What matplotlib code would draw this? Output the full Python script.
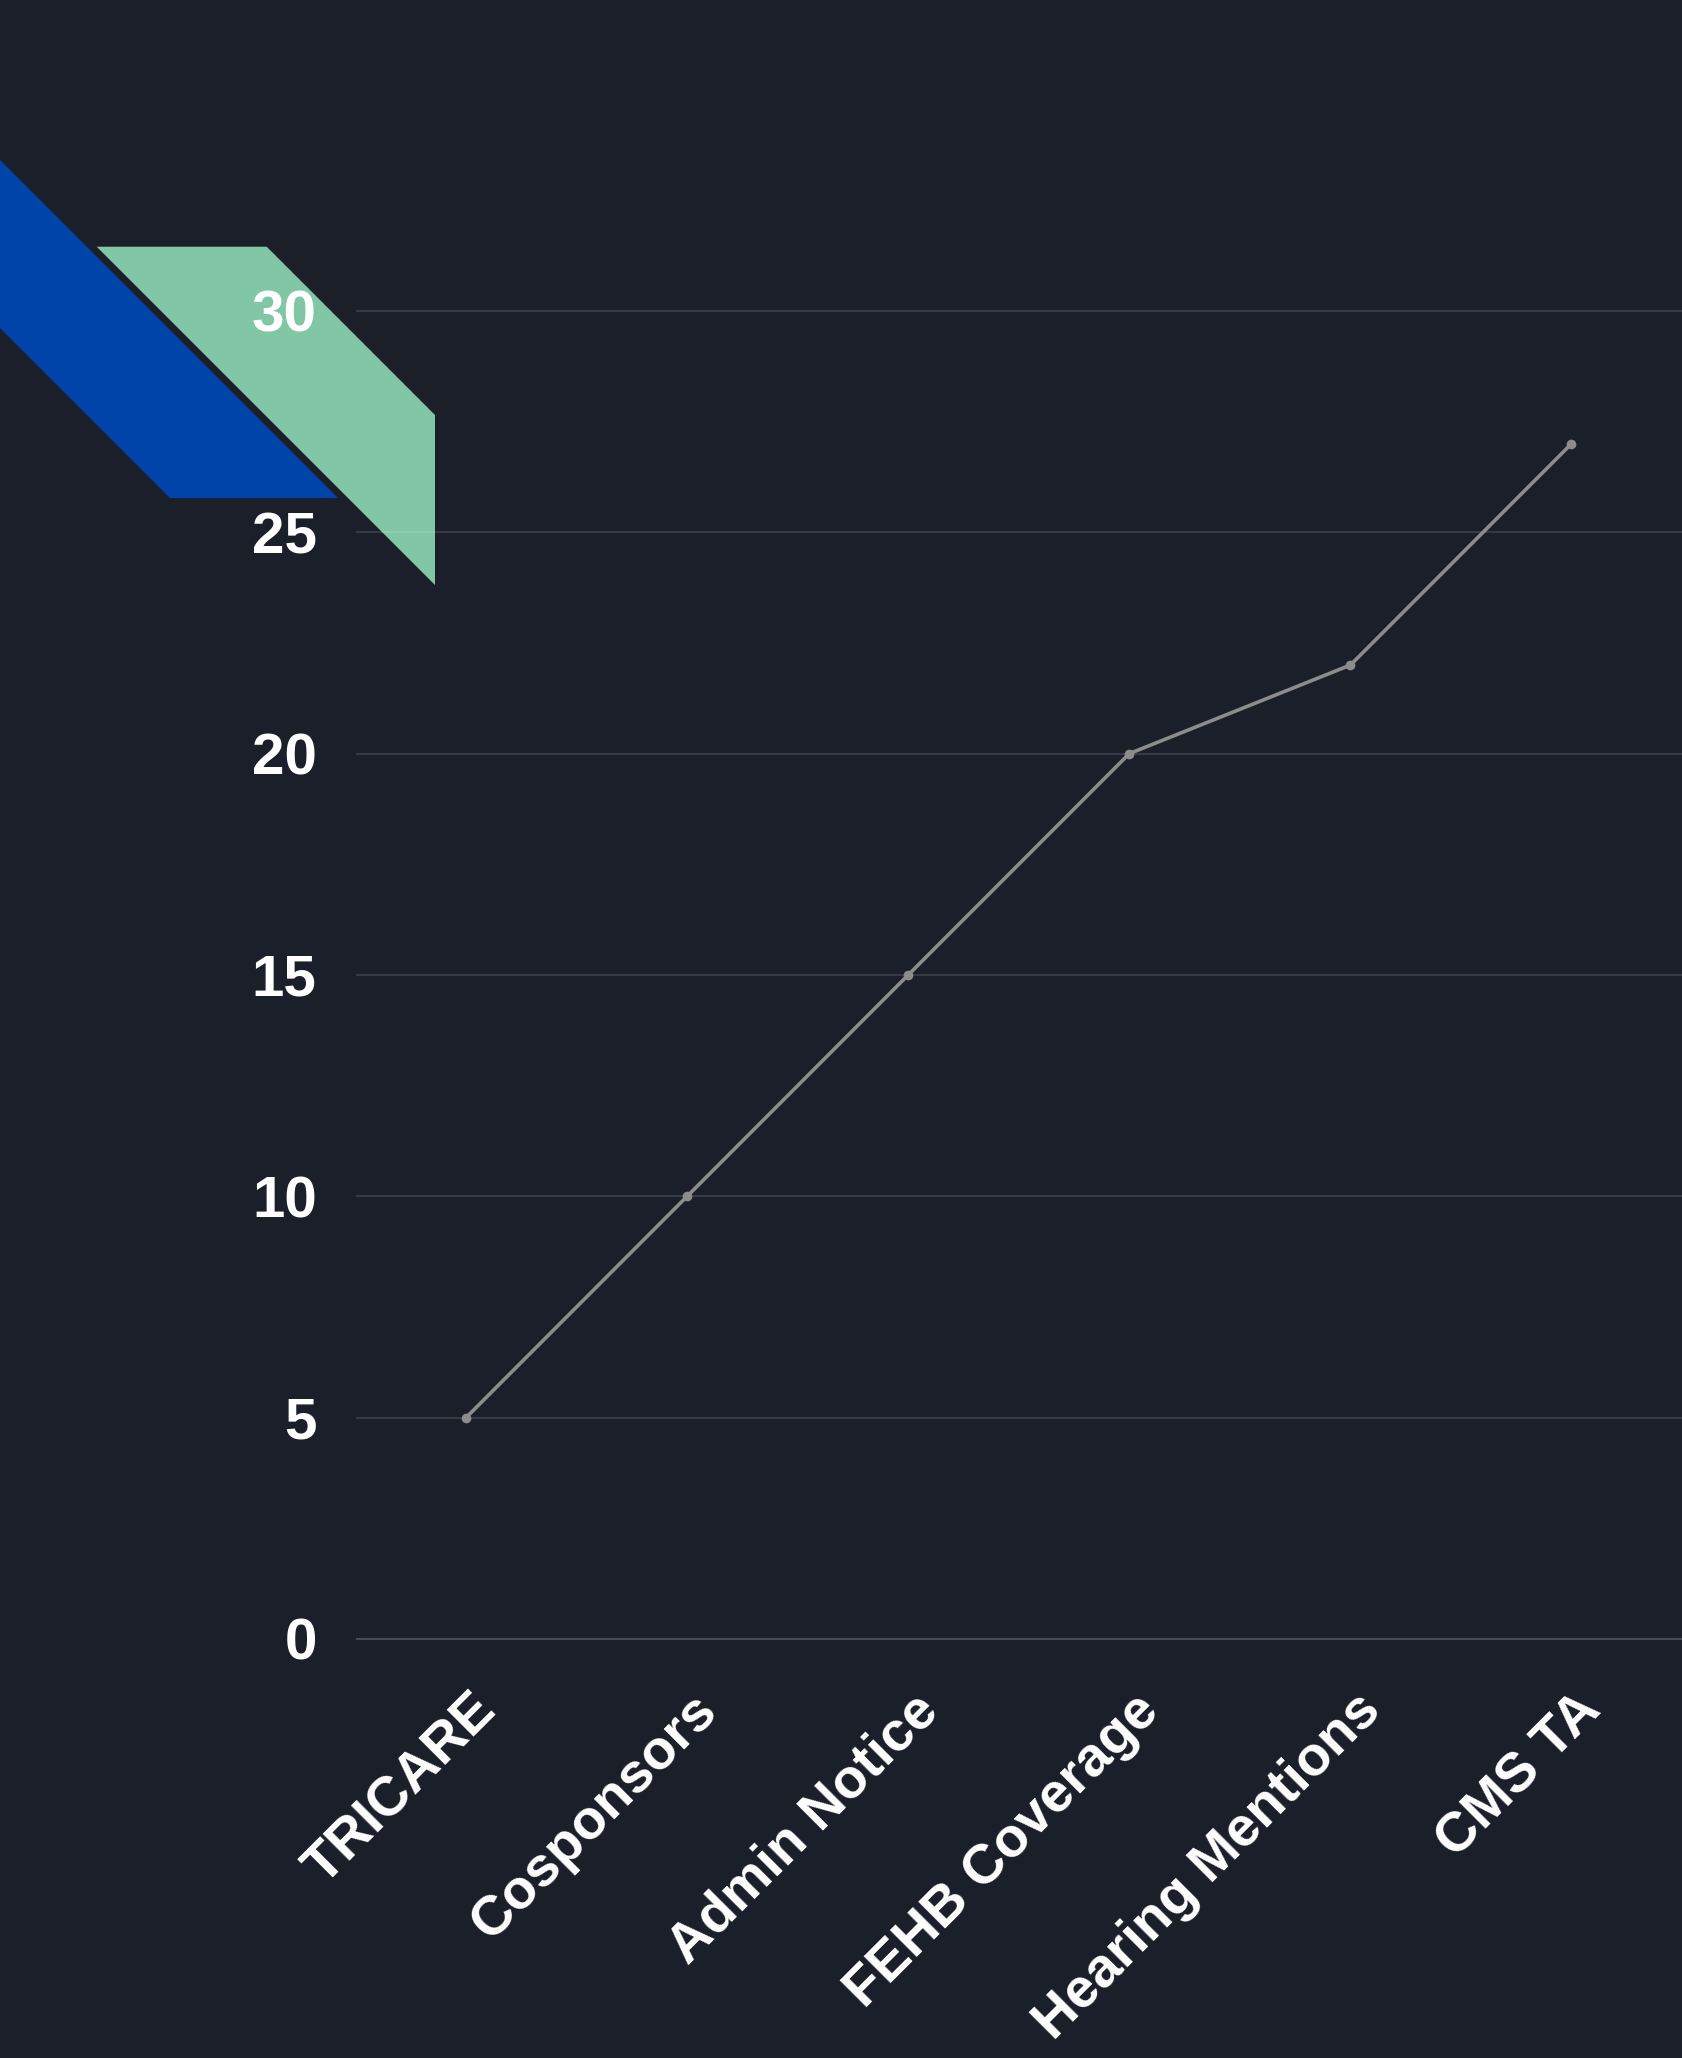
import matplotlib
matplotlib.use('Agg')
import matplotlib.pyplot as plt
import matplotlib.patches as patches
from matplotlib.transforms import ScaledTranslation

# ---------- data
categories = ['TRICARE', 'Cosponsors', 'Admin Notice', 'FEHB Coverage',
              'Hearing Mentions', 'CMS TA']
values = [5, 10, 15, 20, 22, 27]
y_ticks = [0, 5, 10, 15, 20, 25, 30]

# ---------- style
W, H = 1682, 2058
dpi = 100
bg = '#1b1f2a'
plt.rcParams['font.family'] = ['Liberation Sans', 'DejaVu Sans']

fig = plt.figure(figsize=(W/dpi, H/dpi), dpi=dpi, facecolor=bg)


def px(x, y):
    # top-left pixel coords -> figure fraction
    return (x / W, 1 - y / H)


# decorative corner shapes (behind the axes)
blue = patches.Polygon([px(-30, 130), px(338, 498), px(170, 498), px(-30, 298)],
                       closed=True, transform=fig.transFigure,
                       facecolor='#0044aa', edgecolor='none', zorder=-2)
green = patches.Polygon([px(96.7, 246.7), px(266.7, 246.7), px(435, 415), px(435, 585)],
                        closed=True, transform=fig.transFigure,
                        facecolor='#82c7a5', edgecolor='none', zorder=-2)
fig.patches.extend([blue, green])

ax = fig.add_axes([355.6/W, (H-1661)/H, 1 - 355.6/W, (1661-266.7)/H])
ax.set_facecolor('none')
ax.set_xlim(-0.5, len(categories) - 0.5)
ax.set_ylim(-0.5, 31)

for v in y_ticks:
    ax.axhline(v, color='white', alpha=0.2 if v == 0 else 0.12, lw=1.5, zorder=1)

x = list(range(len(categories)))
ax.plot(x, values, color='#8c8c8c', lw=2.6, marker='o', markersize=7,
        markerfacecolor='#8c8c8c', markeredgewidth=0, zorder=3, clip_on=False)

ax.set_yticks(y_ticks)
ax.set_yticklabels([str(v) for v in y_ticks])
ax.set_xticks(x)
ax.set_xticklabels(categories, rotation=45, ha='right', va='center',
                   rotation_mode='anchor')
ax.tick_params(axis='y', length=0, pad=28, labelsize=42, labelcolor='white')
ax.tick_params(axis='x', length=0, pad=30, labelsize=40, labelcolor='white')
for lab in ax.get_yticklabels() + ax.get_xticklabels():
    lab.set_fontweight('bold')
for lab in ax.get_xticklabels():
    lab.set_transform(lab.get_transform() + ScaledTranslation(0.22, 0, fig.dpi_scale_trans))

for s in ax.spines.values():
    s.set_visible(False)

fig.savefig('out.png', dpi=dpi, facecolor=bg)
